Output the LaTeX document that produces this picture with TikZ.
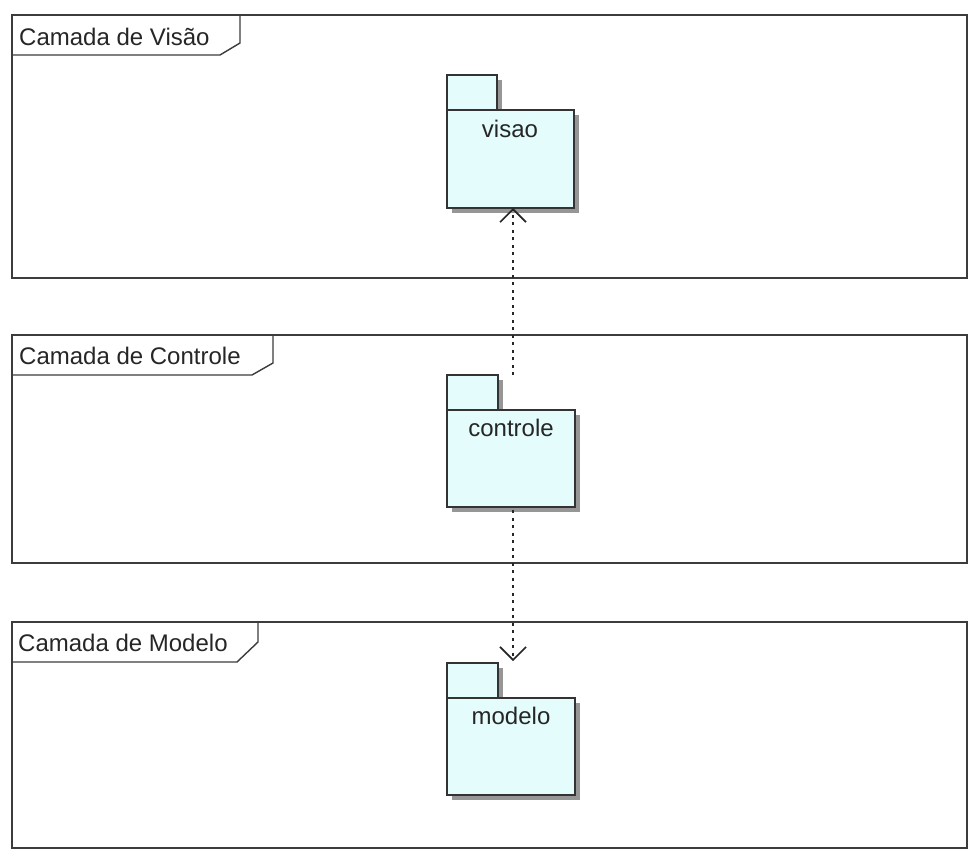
\documentclass[tikz,border=0pt]{standalone}
\usepackage{fontspec}
\setmainfont{Liberation Sans}
\usetikzlibrary{arrows.meta}
\definecolor{framecol}{RGB}{60,60,60}
\definecolor{pkgfill}{RGB}{228,252,252}
\definecolor{shadowcol}{RGB}{150,150,150}
\tikzset{
  frame/.style={draw=framecol, line width=1.6pt, fill=none},
  tabline/.style={draw=framecol, line width=1.4pt},
  framelabel/.style={anchor=west, font=\fontsize{24}{27}\selectfont, inner sep=0pt, text=black!85},
  pkgbody/.style={draw=black!80, line width=1.2pt, fill=pkgfill},
  pkgshadow/.style={fill=shadowcol, draw=none},
  pkglabel/.style={anchor=north, font=\fontsize{24}{27}\selectfont, inner sep=0pt, text=black!85},
  dep/.style={draw=black!85, line width=1.8pt, dash pattern=on 3pt off 4.5pt,
    -{Straight Barb[length=13pt,width=26pt,line width=1.6pt]}}
}
\begin{document}
\begin{tikzpicture}[x=1pt,y=-1pt]
\useasboundingbox (0,0) rectangle (969,851);
\fill[white] (0,0) rectangle (969,851);

% frames
\draw[frame] (12,15) rectangle (967,278);
\draw[tabline] (240,15) -- (240,43) -- (220,55) -- (12,55);
\node[framelabel] (lv) at (19,37) {Camada de Visão};

\draw[frame] (12,335) rectangle (967,563);
\draw[tabline] (273,335) -- (273,363) -- (252,375) -- (12,375);
\node[framelabel] (lc) at (19,356) {Camada de Controle};

\draw[frame] (12,622) rectangle (967,848);
\draw[tabline] (258,622) -- (258,642) -- (237,662) -- (12,662);
\node[framelabel] (lm) at (18,643) {Camada de Modelo};

% visao
\fill[pkgshadow] (452,80) rectangle (502,115);
\fill[pkgshadow] (452,115) rectangle (579,213);
\draw[pkgbody] (447,75) rectangle (497,110);
\draw[pkgbody] (447,110) rectangle (574,208);
\coordinate (visaoS) at (513,208);
\node[pkglabel] (visao) at (510,120) {visao};

% controle
\fill[pkgshadow] (452,380) rectangle (503,415);
\fill[pkgshadow] (452,415) rectangle (580,512);
\draw[pkgbody] (447,375) rectangle (498,410);
\draw[pkgbody] (447,410) rectangle (575,507);
\node[pkglabel] (controle) at (511,419) {controle};
\coordinate (ctrlN) at (513,375);
\coordinate (ctrlS) at (513,510);

% modelo
\fill[pkgshadow] (452,668) rectangle (503,703);
\fill[pkgshadow] (452,703) rectangle (580,800);
\draw[pkgbody] (447,663) rectangle (498,698);
\draw[pkgbody] (447,698) rectangle (575,795);
\node[pkglabel] (modelo) at (511,707) {modelo};
\coordinate (modeloN) at (513,661);

% dependencies
\draw[dep] (ctrlN) -- (visaoS);
\draw[dep] (ctrlS) -- (modeloN);
\end{tikzpicture}
\end{document}
